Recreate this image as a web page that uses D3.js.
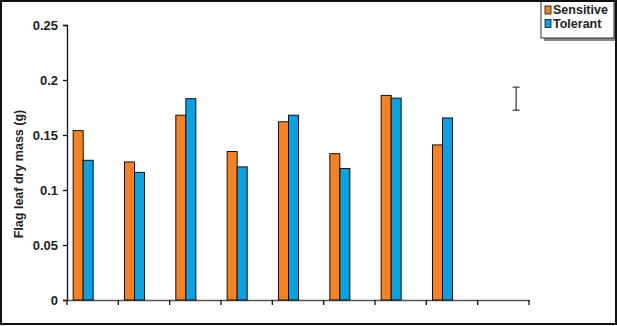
<!DOCTYPE html>
<html>
<head>
<meta charset="utf-8">
<script src="https://d3js.org/d3.v7.min.js"></script>
<style>
  body { margin: 0; background: #fff; }
  svg { display: block; font-family: "Liberation Sans", Arial, sans-serif; }
</style>
</head>
<body>
<div id="chart"></div>
<script>
// groups along the x axis (no labels shown in the original), last slot is empty
var groups = ["g1", "g2", "g3", "g4", "g5", "g6", "g7", "g8", "g9"];
var sensitive = [0.154, 0.1255, 0.168, 0.135, 0.162, 0.133, 0.186, 0.141, null];
var tolerant  = [0.127, 0.116, 0.183, 0.121, 0.168, 0.1195, 0.1835, 0.1655, null];
var yTicks = [0, 0.05, 0.1, 0.15, 0.2, 0.25];
var seriesNames = ["Sensitive", "Tolerant"];
var seriesColors = ["#f7821f", "#0aa1e2"];
// LSD style error bar drawn in the empty last slot
var errGroup = "g9";
var errLow = 0.1725, errHigh = 0.1935;

var width = 617, height = 326;
var svg = d3.select("#chart").append("svg")
    .attr("width", width).attr("height", height);

svg.append("rect").attr("width", width).attr("height", height).attr("fill", "#fff");

var x = d3.scaleBand().domain(groups).range([67, 529]).paddingInner(0).paddingOuter(0);
var y = d3.scaleLinear().domain([0, 0.25]).range([300, 25]);

var step = x.step();
var barW = step * 0.195;
var barOff = step * 0.12;

// y axis
var yAxis = svg.append("g")
    .attr("transform", "translate(67,0)")
    .call(d3.axisLeft(y).tickValues(yTicks).tickSize(4).tickPadding(5)
        .tickFormat(function(d) { return d3.format("")(+d.toFixed(2)); }));
yAxis.select(".domain").attr("stroke", "#111").attr("stroke-width", 1.3);
yAxis.selectAll(".tick line").attr("stroke", "#111").attr("stroke-width", 1.3);
yAxis.selectAll("text").attr("font-size", 13).attr("font-weight", "bold").attr("fill", "#222");

// x axis
var xAxis = svg.append("g")
    .attr("transform", "translate(0,300)")
    .call(d3.axisBottom(x).tickSize(0).tickFormat(""));
xAxis.select(".domain").attr("stroke", "#555").attr("stroke-width", 1.3);
xAxis.selectAll(".xt")
    .data(groups.concat(["end"]))
    .enter().append("line")
    .attr("class", "xt")
    .attr("x1", function(d, i) { return 67 + i * step; })
    .attr("x2", function(d, i) { return 67 + i * step; })
    .attr("y1", 0).attr("y2", 5)
    .attr("stroke", "#111").attr("stroke-width", 1.3);

// bars
var rows = groups.map(function(g, i) { return {g: g, vals: [sensitive[i], tolerant[i]]}; });
var bars = svg.append("g");
rows.forEach(function(r) {
    r.vals.forEach(function(v, k) {
        if (v == null) return;
        bars.append("rect")
            .attr("x", x(r.g) + barOff + k * barW)
            .attr("y", y(v))
            .attr("width", barW)
            .attr("height", y(0) - y(v))
            .attr("fill", seriesColors[k])
            .attr("stroke", "#111")
            .attr("stroke-width", 1);
    });
});

// error bar
var ex = x(errGroup) + step * 0.75;
var eb = svg.append("g").attr("stroke", "#444").attr("stroke-width", 1.3);
eb.append("line").attr("x1", ex).attr("x2", ex).attr("y1", y(errHigh)).attr("y2", y(errLow));
eb.append("line").attr("x1", ex - 3.5).attr("x2", ex + 3.5).attr("y1", y(errHigh)).attr("y2", y(errHigh));
eb.append("line").attr("x1", ex - 3.5).attr("x2", ex + 3.5).attr("y1", y(errLow)).attr("y2", y(errLow));

// y label
svg.append("text")
    .attr("transform", "translate(23,174) rotate(-90)")
    .attr("text-anchor", "middle")
    .attr("font-size", 12.5)
    .attr("font-weight", "bold")
    .attr("fill", "#222")
    .text("Flag leaf dry mass (g)");

// legend
var lg = svg.append("g");
lg.append("rect").attr("x", 544).attr("y", 2).attr("width", 73).attr("height", 39).attr("fill", "#888");
lg.append("rect").attr("x", 541).attr("y", -1).attr("width", 73).attr("height", 39)
    .attr("fill", "#fff").attr("stroke", "#333").attr("stroke-width", 1);
seriesNames.forEach(function(n, i) {
    lg.append("rect")
        .attr("x", 545).attr("y", 6 + i * 13.5)
        .attr("width", 6).attr("height", 8)
        .attr("fill", seriesColors[i]).attr("stroke", "#111").attr("stroke-width", 0.8);
    lg.append("text")
        .attr("x", 553).attr("y", 14 + i * 13.5)
        .attr("font-size", 12.5).attr("font-weight", "bold").attr("fill", "#222")
        .text(n);
});

// outer frame
svg.append("rect").attr("x", 1).attr("y", 1).attr("width", width - 2).attr("height", height - 3)
    .attr("fill", "none").attr("stroke", "#111").attr("stroke-width", 2);
</script>
</body>
</html>
